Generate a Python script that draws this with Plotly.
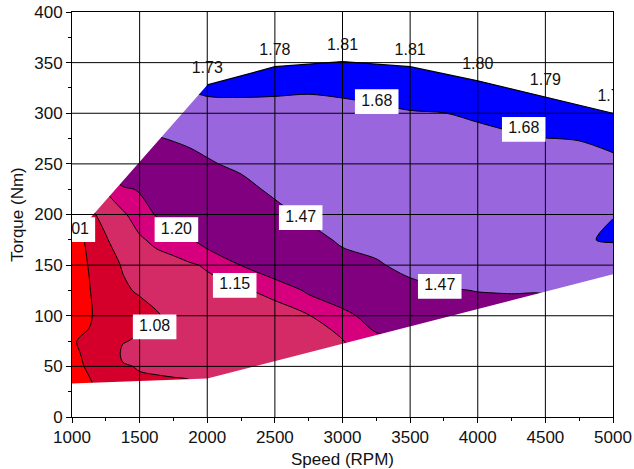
import plotly.graph_objects as go

# ---------------- data ----------------
speeds = [1000, 1125, 1250, 1375, 1500, 1625, 1750, 1875, 2000, 2250, 2500,
          2750, 3000, 3250, 3500, 3750, 4000, 4250, 4500, 4750, 5000]
torques = [0, 25, 50, 62.5, 75, 100, 125, 150, 175, 200, 225, 250, 275, 300,
           325, 350, 375, 400]

# ratio values per speed column (bottom -> top, one per torque row)
ratio_1000 = [0.97, 0.985, 0.995, 1.0, 1.006, 0.995, 0.99, 0.97, 0.985, 0.98, 1.0, 1.02, 1.04, 1.06, 1.08, 1.1, 1.12, 1.14]
ratio_1125 = [0.99, 1.0, 1.016, 1.02, 1.02, 1.0, 1.005, 1.013, 1.02, 1.07, 1.1, 1.13, 1.16, 1.2, 1.24, 1.28, 1.32, 1.36]
ratio_1250 = [1.02, 1.025, 1.03, 1.045, 1.04, 1.05, 1.06, 1.068, 1.076, 1.095, 1.155, 1.21, 1.3, 1.4, 1.5, 1.6, 1.7, 1.75]
ratio_1375 = [1.05, 1.065, 1.077, 1.086, 1.078, 1.072, 1.076, 1.082, 1.105, 1.142, 1.19, 1.28, 1.38, 1.47, 1.57, 1.66, 1.72, 1.76]
ratio_1500 = [1.06, 1.072, 1.082, 1.09, 1.084, 1.07, 1.083, 1.113, 1.143, 1.175, 1.205, 1.3, 1.4, 1.5, 1.6, 1.68, 1.72, 1.75]
ratio_1625 = [1.07, 1.072, 1.084, 1.093, 1.09, 1.072, 1.11, 1.128, 1.162, 1.204, 1.28, 1.37, 1.46, 1.55, 1.64, 1.7, 1.74, 1.77]
ratio_1750 = [1.06, 1.072, 1.086, 1.093, 1.1, 1.105, 1.115, 1.135, 1.175, 1.235, 1.31, 1.39, 1.48, 1.56, 1.65, 1.71, 1.75, 1.78]
ratio_1875 = [1.07, 1.075, 1.086, 1.092, 1.098, 1.11, 1.125, 1.145, 1.195, 1.26, 1.34, 1.42, 1.5, 1.6, 1.69, 1.74, 1.77, 1.79]
ratio_2000 = [1.08, 1.088, 1.095, 1.1, 1.105, 1.118, 1.135, 1.155, 1.225, 1.295, 1.37, 1.45, 1.53, 1.62, 1.71, 1.78, 1.8, 1.81]
ratio_2250 = [1.09, 1.1, 1.11, 1.115, 1.12, 1.132, 1.146, 1.201, 1.27, 1.33, 1.41, 1.51, 1.57, 1.63, 1.71, 1.77, 1.8, 1.82]
ratio_2500 = [1.1, 1.11, 1.12, 1.125, 1.13, 1.135, 1.16, 1.25, 1.33, 1.41, 1.51, 1.57, 1.61, 1.65, 1.695, 1.785, 1.81, 1.83]
ratio_2750 = [1.1, 1.115, 1.13, 1.135, 1.14, 1.148, 1.21, 1.3, 1.4, 1.51, 1.58, 1.62, 1.64, 1.665, 1.685, 1.795, 1.82, 1.84]
ratio_3000 = [1.1, 1.12, 1.135, 1.142, 1.148, 1.18, 1.25, 1.4, 1.5, 1.57, 1.61, 1.63, 1.645, 1.665, 1.69, 1.805, 1.83, 1.85]
ratio_3250 = [1.1, 1.13, 1.155, 1.17, 1.185, 1.23, 1.34, 1.45, 1.53, 1.59, 1.62, 1.635, 1.65, 1.668, 1.7, 1.805, 1.83, 1.85]
ratio_3500 = [1.1, 1.13, 1.16, 1.18, 1.2, 1.31, 1.42, 1.52, 1.57, 1.6, 1.625, 1.64, 1.655, 1.675, 1.72, 1.81, 1.83, 1.85]
ratio_3750 = [1.12, 1.16, 1.22, 1.25, 1.29, 1.38, 1.46, 1.53, 1.58, 1.61, 1.63, 1.645, 1.66, 1.679, 1.73, 1.81, 1.83, 1.85]
ratio_4000 = [1.15, 1.2, 1.28, 1.32, 1.36, 1.42, 1.473, 1.54, 1.59, 1.615, 1.63, 1.645, 1.662, 1.69, 1.78, 1.82, 1.84, 1.86]
ratio_4250 = [1.18, 1.24, 1.31, 1.34, 1.37, 1.43, 1.476, 1.55, 1.6, 1.625, 1.64, 1.652, 1.668, 1.71, 1.79, 1.82, 1.84, 1.86]
ratio_4500 = [1.2, 1.27, 1.34, 1.37, 1.4, 1.44, 1.475, 1.56, 1.61, 1.635, 1.648, 1.66, 1.679, 1.73, 1.8, 1.82, 1.84, 1.86]
ratio_4750 = [1.22, 1.3, 1.37, 1.4, 1.43, 1.465, 1.52, 1.58, 1.675, 1.668, 1.645, 1.66, 1.682, 1.74, 1.8, 1.82, 1.84, 1.86]
ratio_5000 = [1.25, 1.32, 1.4, 1.43, 1.46, 1.52, 1.58, 1.64, 1.685, 1.679, 1.665, 1.672, 1.69, 1.76, 1.8, 1.82, 1.84, 1.86]

columns = [ratio_1000, ratio_1125, ratio_1250, ratio_1375, ratio_1500, ratio_1625,
           ratio_1750, ratio_1875, ratio_2000, ratio_2250, ratio_2500, ratio_2750,
           ratio_3000, ratio_3250, ratio_3500, ratio_3750, ratio_4000, ratio_4250,
           ratio_4500, ratio_4750, ratio_5000]
grid = [list(row) for row in zip(*columns)]  # rows = torque, cols = speed

levels = [1.01, 1.08, 1.15, 1.20, 1.47, 1.68]
level_colors = ["#D4002B", "#D42A66", "#D6007F", "#800080", "#9966DD", "#0000FF"]
base_color = "#FF0000"

# operating envelope
max_speed = [1000, 1500, 2000, 2500, 3000, 3500, 4000, 4500, 5000]
max_torque = [176, 252, 328, 346, 351, 346, 332, 316, 300]
min_speed = [1000, 2000, 5000]
min_torque = [33, 38, 141]

# values printed along the max-torque curve
peak_speed = [2000, 2500, 3000, 3500, 4000, 4500, 5000]
peak_torque = [328, 346, 351, 346, 332, 316, 300]
peak_value = ["1.73", "1.78", "1.81", "1.81", "1.80", "1.79", "1.77"]

# contour labels
clabel_text = ["1.01", "1.08", "1.15", "1.20", "1.47", "1.47", "1.68", "1.68"]
clabel_speed = [1010, 1611, 2203, 1772, 2691, 3719, 3253, 4340]
clabel_torque = [185, 89, 130, 185, 197, 129, 311.5, 284]

x_ticks = [1000, 1500, 2000, 2500, 3000, 3500, 4000, 4500, 5000]
y_ticks = [0, 50, 100, 150, 200, 250, 300, 350, 400]

# ---------------- style ----------------
FONT = "Arial, 'Liberation Sans', sans-serif"
BOX_HALF_W = 161   # rpm
BOX_HALF_H = 12.2  # Nm
PEAK_OFFSET = 15.8  # Nm
XR = [x_ticks[0], x_ticks[-1]]
YR = [y_ticks[0], y_ticks[-1]]
PAD = 300

fig = go.Figure()

# plotly shades the region that violates the constraint, so "<" shades z > level
for lv, col in zip(levels, level_colors):
    fig.add_trace(go.Contour(
        x=speeds, y=torques, z=grid,
        contours=dict(type="constraint", operation="<", value=lv),
        fillcolor=col, line=dict(color="black", width=1, smoothing=0.9),
        showscale=False, hoverinfo="skip", showlegend=False))

# white masks outside the envelope
up_x = max_speed + [XR[1] + PAD, XR[1] + PAD, XR[0] - PAD, XR[0] - PAD]
up_y = max_torque + [max_torque[-1], YR[1] + 50, YR[1] + 50, max_torque[0]]
lo_x = min_speed + [XR[1] + PAD, XR[1] + PAD, XR[0] - PAD, XR[0] - PAD]
lo_y = min_torque + [min_torque[-1], YR[0] - 50, YR[0] - 50, min_torque[0]]
for mx, my in ((up_x, up_y), (lo_x, lo_y)):
    fig.add_trace(go.Scatter(x=mx, y=my, mode="lines", fill="toself",
                             fillcolor="white", line=dict(width=0, color="white"),
                             hoverinfo="skip", showlegend=False))

# grid lines
gx, gy = [], []
for v in x_ticks[1:-1]:
    gx += [v, v, None]
    gy += [YR[0], YR[1], None]
for v in y_ticks[1:-1]:
    gx += [XR[0], XR[1], None]
    gy += [v, v, None]
fig.add_trace(go.Scatter(x=gx, y=gy, mode="lines",
                         line=dict(color="black", width=1),
                         hoverinfo="skip", showlegend=False))

# top boundary line
fig.add_trace(go.Scatter(x=peak_speed, y=peak_torque, mode="lines",
                         line=dict(color="black", width=1.2),
                         hoverinfo="skip", showlegend=False))

# label boxes
bx, by = [], []
for sx, ty in zip(clabel_speed, clabel_torque):
    bx += [sx - BOX_HALF_W, sx + BOX_HALF_W, sx + BOX_HALF_W, sx - BOX_HALF_W, sx - BOX_HALF_W, None]
    by += [ty - BOX_HALF_H, ty - BOX_HALF_H, ty + BOX_HALF_H, ty + BOX_HALF_H, ty - BOX_HALF_H, None]
fig.add_trace(go.Scatter(x=bx, y=by, mode="lines", fill="toself",
                         fillcolor="white", line=dict(width=0, color="white"),
                         hoverinfo="skip", showlegend=False))

fig.add_trace(go.Scatter(x=clabel_speed, y=clabel_torque, mode="text",
                         text=clabel_text, textposition="middle center",
                         textfont=dict(family=FONT, size=16, color="#111"),
                         cliponaxis=True, hoverinfo="skip", showlegend=False))

fig.add_trace(go.Scatter(x=peak_speed, y=[t + PEAK_OFFSET for t in peak_torque],
                         mode="text", text=peak_value, textposition="middle center",
                         textfont=dict(family=FONT, size=16, color="#111"),
                         cliponaxis=True, hoverinfo="skip", showlegend=False))

axis_common = dict(showline=True, linecolor="black", linewidth=1, mirror=True,
                   ticks="outside", ticklen=5, tickwidth=1, tickcolor="black",
                   showgrid=False, zeroline=False, automargin=False,
                   tickfont=dict(family=FONT, size=17, color="#111"))

fig.update_layout(
    width=634, height=469,
    margin=dict(l=72, r=21, t=12, b=52),
    paper_bgcolor="white", plot_bgcolor=base_color,
    font=dict(family=FONT, color="#111"),
    showlegend=False,
    xaxis=dict(range=XR, tickvals=x_ticks, title=dict(text="Speed (RPM)", font=dict(family=FONT, size=17), standoff=8),
               minor=dict(dtick=250, tick0=1000, ticks="outside", ticklen=3, tickcolor="black"),
               **axis_common),
    yaxis=dict(range=YR, tickvals=y_ticks, title=dict(text="Torque (Nm)", font=dict(family=FONT, size=17), standoff=6),
               minor=dict(dtick=25, tick0=0, ticks="outside", ticklen=3, tickcolor="black"),
               **axis_common),
)

fig.write_html("out.html",
               config={"displayModeBar": False},
               post_script="document.body.style.margin='0';document.body.style.overflow='hidden';")
